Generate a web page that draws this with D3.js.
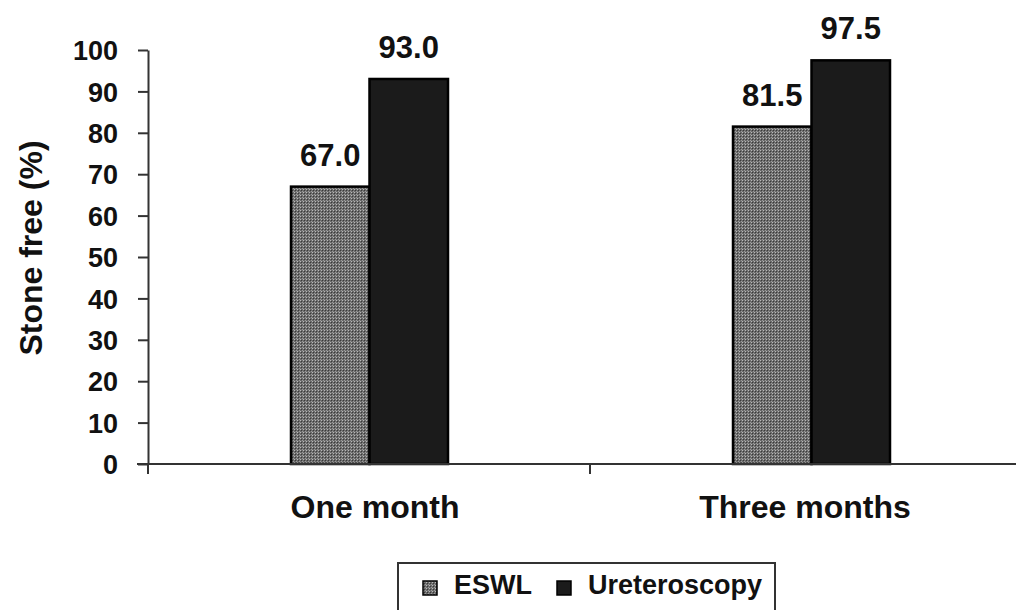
<!DOCTYPE html>
<html>
<head>
<meta charset="utf-8">
<script src="https://cdn.jsdelivr.net/npm/d3@7"></script>
<style>
  html, body { margin: 0; padding: 0; background: #fff; }
  svg { display: block; font-family: "Liberation Sans", Arial, sans-serif; font-weight: bold; }
</style>
</head>
<body>
<svg id="chart" width="1016" height="610"></svg>
<script>
const categories = ["One month", "Three months"];
const seriesNames = ["ESWL", "Ureteroscopy"];
const eswlValues = [67.0, 81.5];
const ureteroscopyValues = [93.0, 97.5];
const yTicks = [0, 10, 20, 30, 40, 50, 60, 70, 80, 90, 100];

(function () {
const svg = d3.select("#chart");
const defs = svg.append("defs");
const pat = defs.append("pattern").attr("id", "dots")
  .attr("patternUnits", "userSpaceOnUse").attr("width", 3).attr("height", 3);
pat.append("rect").attr("width", 3).attr("height", 3).attr("fill", "#6a6a6a");
pat.append("rect").attr("x", 0).attr("y", 0).attr("width", 1).attr("height", 1).attr("fill", "#b8b8b8");
pat.append("rect").attr("x", 1).attr("y", 1).attr("width", 1).attr("height", 1).attr("fill", "#3a3a3a");
pat.append("rect").attr("x", 2).attr("y", 2).attr("width", 1).attr("height", 1).attr("fill", "#9a9a9a");

const fills = ["url(#dots)", "#1b1b1b"];
const mLeft = 148, mRight = 1032, mTop = 50, mBottom = 464;

const x0 = d3.scaleBand().domain(categories).range([mLeft, mRight]).paddingInner(0).paddingOuter(0);
const xLabel = d3.scaleBand().domain(categories).range([160, 1020]);
const x1 = d3.scaleBand().domain(seriesNames).range([0, 157]);
const y = d3.scaleLinear().domain([0, 100]).range([mBottom, mTop]);

const data = categories.map((c, i) => ({ cat: c, vals: [eswlValues[i], ureteroscopyValues[i]] }));

// bars
const groups = svg.append("g").selectAll("g").data(data).join("g")
  .attr("transform", d => `translate(${x0(d.cat) + x0.bandwidth() / 2 - 78},0)`);
groups.selectAll("rect").data(d => d.vals.map((v, j) => ({ v, s: seriesNames[j], j }))).join("rect")
  .attr("x", d => x1(d.s))
  .attr("y", d => y(d.v))
  .attr("width", x1.bandwidth())
  .attr("height", d => y(0) - y(d.v))
  .attr("fill", d => fills[d.j])
  .attr("stroke", "#000").attr("stroke-width", 2.5);
groups.selectAll("text").data(d => d.vals.map((v, j) => ({ v, s: seriesNames[j] }))).join("text")
  .attr("x", d => x1(d.s) + x1.bandwidth() / 2)
  .attr("y", d => y(d.v) - 21)
  .attr("text-anchor", "middle")
  .attr("font-size", 31).attr("fill", "#111")
  .text(d => d.v.toFixed(1));

// y axis
const yAxis = d3.axisLeft(y).tickValues(yTicks).tickSize(10).tickPadding(20).tickSizeOuter(0);
const ya = svg.append("g").attr("transform", `translate(${mLeft},0)`).call(yAxis);
ya.attr("font-size", null).attr("font-family", null);
ya.select(".domain").attr("stroke", "#333").attr("stroke-width", 2);
ya.selectAll(".tick line").attr("stroke", "#333").attr("stroke-width", 2);
ya.selectAll(".tick text").attr("font-size", 27).attr("fill", "#111").attr("dy", "0.36em");

// x axis
svg.append("line").attr("x1", 137).attr("x2", 1016).attr("y1", mBottom).attr("y2", mBottom)
  .attr("stroke", "#333").attr("stroke-width", 2);
const boundaries = [mLeft, x0(categories[1])];
svg.append("g").selectAll("line").data(boundaries).join("line")
  .attr("x1", d => d).attr("x2", d => d).attr("y1", mBottom).attr("y2", mBottom + 10)
  .attr("stroke", "#333").attr("stroke-width", 2);
svg.append("g").selectAll("text").data(categories).join("text")
  .attr("x", d => xLabel(d) + xLabel.bandwidth() / 2)
  .attr("y", 518)
  .attr("text-anchor", "middle").attr("font-size", 32).attr("fill", "#111")
  .text(d => d);

// y title
svg.append("text").attr("transform", "translate(42,248) rotate(-90)")
  .attr("text-anchor", "middle").attr("font-size", 32).attr("fill", "#111")
  .text("Stone free (%)");

// legend
svg.append("rect").attr("x", 398).attr("y", 563).attr("width", 377).attr("height", 60)
  .attr("fill", "#fff").attr("stroke", "#333").attr("stroke-width", 2);
const leg = [{ name: "ESWL", x: 423 }, { name: "Ureteroscopy", x: 557 }];
svg.append("g").selectAll("rect").data(leg).join("rect")
  .attr("x", d => d.x).attr("y", 581).attr("width", 14).attr("height", 14)
  .attr("fill", (d, i) => fills[i]).attr("stroke", "#000").attr("stroke-width", 1.5);
svg.append("g").selectAll("text").data(leg).join("text")
  .attr("x", d => d.x + 31).attr("y", 594)
  .attr("font-size", 27).attr("fill", "#111")
  .text(d => d.name);
})();
</script>
</body>
</html>
